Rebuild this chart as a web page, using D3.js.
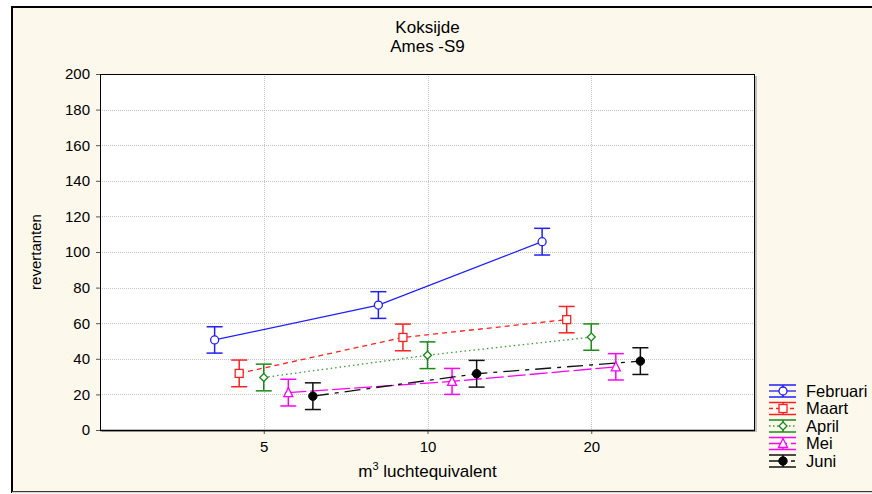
<!DOCTYPE html>
<html>
<head>
<meta charset="utf-8">
<script src="https://cdn.jsdelivr.net/npm/d3@7/dist/d3.min.js"></script>
<style>
  html, body { margin: 0; padding: 0; background: #ffffff; }
  svg { display: block; font-family: "Liberation Sans", Arial, sans-serif; }
</style>
</head>
<body>
<svg id="chart" width="872" height="494"></svg>
<script>
// ---- data ----
const titleLines = ["Koksijde", "Ames -S9"];
const xCategories = ["5", "10", "20"];
const yTicks = [0, 20, 40, 60, 80, 100, 120, 140, 160, 180, 200];
const seriesNames = ["Februari", "Maart", "April", "Mei", "Juni"];
const februari = [50.6, 70.2, 105.8];
const maart    = [31.8, 52.0, 62.0];
const april    = [29.5, 42.0, 52.2];
const mei      = [21.0, 27.3, 35.5];
const juni     = [19.0, 31.6, 38.7];
const februariErr = [7.4, 7.5, 7.5];
const maartErr    = [7.5, 7.5, 7.4];
const aprilErr    = [7.5, 7.5, 7.4];
const meiErr      = [7.5, 7.3, 7.4];
const juniErr     = [7.5, 7.5, 7.5];

// ---- styles ----
const styles = [
  { color: "#1f1fff", dash: null,       legendDash: null,       marker: "circle",   fill: "#ffffff", lineColor: "#1f1fff" },
  { color: "#ff2020", dash: "5,4",      legendDash: "4,3",      marker: "square",   fill: "#ffffff", lineColor: "#ff2020" },
  { color: "#1a8a1a", dash: "1.5,3",    legendDash: "1.5,2.5",  marker: "diamond",  fill: "#ffffff", lineColor: "#3a9a3a" },
  { color: "#ff00ff", dash: "18,4",     legendDash: "18,4",     marker: "triangle", fill: "#ffffff", lineColor: "#ff00ff" },
  { color: "#111111", dash: "16,6,4,6", legendDash: "16,6,4,6", marker: "dot",      fill: "#000000", lineColor: "#111111" }
];
const offsets = [-0.3, -0.15, 0, 0.15, 0.3];
const allValues = [februari, maart, april, mei, juni];
const allErr = [februariErr, maartErr, aprilErr, meiErr, juniErr];

const svg = d3.select("#chart");
const W = 872, H = 494;
const plot = { left: 100, top: 74, right: 755, bottom: 430 };

// outer frame
svg.append("rect").attr("x", 0).attr("y", 0).attr("width", W).attr("height", H).attr("fill", "#ffffff");
svg.append("rect").attr("x", 12).attr("y", 7).attr("width", 900).attr("height", 485)
  .attr("fill", "#fdf8ec").attr("stroke", "#000").attr("stroke-width", 2);
svg.append("line").attr("x1", 12).attr("x2", W).attr("y1", 492.5).attr("y2", 492.5)
  .attr("stroke", "#d8d8d8").attr("stroke-width", 1.5);

const x = d3.scaleLinear().domain([0, 4]).range([plot.left, plot.right]);
const y = d3.scaleLinear().domain([0, 200]).range([plot.bottom, plot.top]);

// plot shadow + background
svg.append("rect").attr("x", plot.left + 2).attr("y", plot.top + 2)
  .attr("width", plot.right - plot.left).attr("height", plot.bottom - plot.top)
  .attr("fill", "#c0c0c0");
svg.append("rect").attr("x", plot.left).attr("y", plot.top)
  .attr("width", plot.right - plot.left).attr("height", plot.bottom - plot.top)
  .attr("fill", "#ffffff");

// gridlines
const grid = svg.append("g");
grid.selectAll("line.hy").data(yTicks.filter(d => d > 0 && d < 200)).join("line")
  .attr("x1", plot.left).attr("x2", plot.right)
  .attr("y1", d => Math.round(y(d)) + 0.5).attr("y2", d => Math.round(y(d)) + 0.5)
  .attr("stroke", "#c4c4c4").attr("stroke-dasharray", "1,1");
grid.selectAll("line.vx").data(xCategories).join("line")
  .attr("x1", (d, i) => Math.round(x(i + 1)) + 0.5).attr("x2", (d, i) => Math.round(x(i + 1)) + 0.5)
  .attr("y1", plot.top).attr("y2", plot.bottom)
  .attr("stroke", "#c4c4c4").attr("stroke-dasharray", "1,1");

// plot border
svg.append("rect").attr("x", plot.left + 0.5).attr("y", plot.top + 0.5)
  .attr("width", plot.right - plot.left - 1).attr("height", plot.bottom - plot.top)
  .attr("fill", "none").attr("stroke", "#000").attr("stroke-width", 1);

// y axis
const yAxis = d3.axisLeft(y).tickValues(yTicks).tickSize(4).tickPadding(6);
const gy = svg.append("g").attr("transform", `translate(${plot.left},0)`).call(yAxis);
gy.select(".domain").remove();
gy.selectAll("text").attr("font-size", 15).attr("fill", "#000")
  .attr("font-family", "Liberation Sans, Arial, sans-serif");
gy.selectAll("line").attr("stroke", "#555");

// x axis
const xAxis = d3.axisBottom(x).tickValues([1, 2, 3]).tickFormat((d) => xCategories[d - 1])
  .tickSize(4).tickPadding(7);
const gx = svg.append("g").attr("transform", `translate(0,${plot.bottom})`).call(xAxis);
gx.select(".domain").remove();
gx.selectAll("text").attr("font-size", 15).attr("fill", "#000")
  .attr("font-family", "Liberation Sans, Arial, sans-serif");
gx.selectAll("line").attr("stroke", "#555");
svg.append("line").attr("x1", plot.left).attr("x2", plot.right)
  .attr("y1", plot.bottom + 0.5).attr("y2", plot.bottom + 0.5).attr("stroke", "#000").attr("stroke-width", 1.5);

// axis titles
const xl = svg.append("text").attr("x", (plot.left + plot.right) / 2).attr("y", 477)
  .attr("text-anchor", "middle").attr("font-size", 17);
xl.append("tspan").text("m");
xl.append("tspan").attr("dy", -7).attr("font-size", 11).text("3");
xl.append("tspan").attr("dy", 7).text(" luchtequivalent");

svg.append("text").attr("transform", `translate(41,${(plot.top + plot.bottom) / 2}) rotate(-90)`)
  .attr("text-anchor", "middle").attr("font-size", 15).text("revertanten");

// title
svg.selectAll("text.title").data(titleLines).join("text").attr("class", "title")
  .attr("x", (plot.left + plot.right) / 2).attr("y", (d, i) => 33 + i * 19)
  .attr("text-anchor", "middle").attr("font-size", 17).text(d => d);

// marker drawer
function drawMarker(g, type, cx, cy, st) {
  if (type === "circle") {
    g.append("circle").attr("cx", cx).attr("cy", cy).attr("r", 4)
      .attr("fill", st.fill).attr("stroke", st.color).attr("stroke-width", 1.3);
  } else if (type === "square") {
    g.append("rect").attr("x", cx - 4).attr("y", cy - 4).attr("width", 8).attr("height", 8)
      .attr("fill", st.fill).attr("stroke", st.color).attr("stroke-width", 1.3);
  } else if (type === "diamond") {
    g.append("path").attr("d", `M${cx},${cy - 4}L${cx + 4},${cy}L${cx},${cy + 4}L${cx - 4},${cy}Z`)
      .attr("fill", st.fill).attr("stroke", st.color).attr("stroke-width", 1.3);
  } else if (type === "triangle") {
    g.append("path").attr("d", `M${cx},${cy - 5}L${cx + 4.5},${cy + 4}L${cx - 4.5},${cy + 4}Z`)
      .attr("fill", st.fill).attr("stroke", st.color).attr("stroke-width", 1.3);
  } else if (type === "dot") {
    g.append("circle").attr("cx", cx).attr("cy", cy).attr("r", 4.2)
      .attr("fill", "#000").attr("stroke", "#000").attr("stroke-width", 1);
  }
}

// series
const line = d3.line().x(d => x(d.i + 1 + d.off)).y(d => y(d.v));
allValues.forEach((vals, s) => {
  const st = styles[s];
  const g = svg.append("g");
  const pts = vals.map((v, i) => ({ i, v, off: offsets[s], e: allErr[s][i] }));
  g.append("path").datum(pts).attr("d", line).attr("fill", "none")
    .attr("stroke", st.lineColor).attr("stroke-width", 1.3)
    .attr("stroke-dasharray", st.dash);
  pts.forEach(p => {
    const cx = x(p.i + 1 + p.off);
    const top = y(p.v + p.e), bot = y(p.v - p.e);
    g.append("line").attr("x1", cx).attr("x2", cx).attr("y1", top).attr("y2", bot)
      .attr("stroke", st.color).attr("stroke-width", 1.5);
    [top, bot].forEach(yy => g.append("line").attr("x1", cx - 8).attr("x2", cx + 8)
      .attr("y1", yy).attr("y2", yy).attr("stroke", st.color).attr("stroke-width", 1.5));
    drawMarker(g, st.marker, cx, y(p.v), st);
  });
});

// legend
const lg = svg.append("g");
seriesNames.forEach((name, s) => {
  const st = styles[s];
  const cy = 391 + s * 17.5;
  const x0 = 769, x1 = 796, cx = 783;
  lg.append("line").attr("x1", x0).attr("x2", x1).attr("y1", cy).attr("y2", cy)
    .attr("stroke", st.lineColor).attr("stroke-width", 1.3).attr("stroke-dasharray", st.legendDash);
  [cy - 6, cy + 6].forEach(yy => lg.append("line").attr("x1", x0).attr("x2", x1)
    .attr("y1", yy).attr("y2", yy).attr("stroke", st.color).attr("stroke-width", 1.5));
  lg.append("line").attr("x1", cx).attr("x2", cx).attr("y1", cy - 6).attr("y2", cy + 6)
    .attr("stroke", st.color).attr("stroke-width", 1.5);
  drawMarker(lg, st.marker, cx, cy, st);
  lg.append("text").attr("x", 806).attr("y", cy + 5.5).attr("font-size", 16.5).text(name);
});
</script>
</body>
</html>
